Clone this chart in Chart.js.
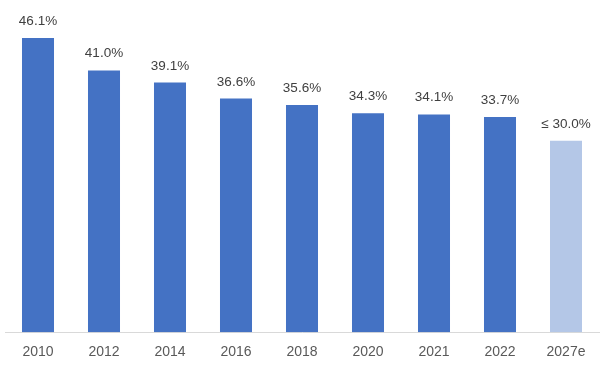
<!DOCTYPE html>
<html>
<head>
<meta charset="utf-8">
<script src="https://cdn.jsdelivr.net/npm/chart.js@4"></script>
<style>
  html, body { margin: 0; padding: 0; background: #fff; }
  #wrap { width: 610px; height: 374px; }
</style>
</head>
<body>
<div id="wrap"><canvas id="chart"></canvas></div>
<script>
const years = ["2010", "2012", "2014", "2016", "2018", "2020", "2021", "2022", "2027e"];
const shares = [46.1, 41.0, 39.1, 36.6, 35.6, 34.3, 34.1, 33.7, 30.0];
const valueLabels = ["46.1%", "41.0%", "39.1%", "36.6%", "35.6%", "34.3%", "34.1%", "33.7%", "≤ 30.0%"];

// value labels on top of each bar
const barLabels = {
  id: "barLabels",
  afterDatasetsDraw(chart) {
    const ctx = chart.ctx;
    const meta = chart.getDatasetMeta(0);
    ctx.save();
    ctx.font = "13.5px 'Liberation Sans', Arial, sans-serif";
    ctx.fillStyle = "#404040";
    ctx.textAlign = "center";
    ctx.textBaseline = "bottom";
    meta.data.forEach((bar, i) => {
      ctx.fillText(valueLabels[i], bar.x, bar.y - 10);
    });
    ctx.restore();
  }
};

const ctx = document.getElementById("chart");

new Chart(ctx, {
  type: "bar",
  data: {
    labels: years,
    datasets: [
      {
        data: shares,
        backgroundColor: function (c) {
          return c.index === years.length - 1 ? "#b4c7e7" : "#4472c4";
        },
        borderWidth: 0,
        barPercentage: 0.485,
        categoryPercentage: 1,
      },
    ],
  },
  options: {
    responsive: true,
    maintainAspectRatio: false,
    animation: false,
    layout: { padding: { left: 5, right: 11, top: 13, bottom: 1 } },
    plugins: {
      legend: { display: false },
      tooltip: { enabled: false },
    },
    scales: {
      x: {
        grid: { display: false, drawTicks: false },
        border: { display: true, color: "#d9d9d9", width: 1 },
        ticks: {
          color: "#595959",
          font: { family: "'Liberation Sans', Arial, sans-serif", size: 14 },
          padding: 12,
        },
      },
      y: {
        display: false,
        min: 0,
        max: 50,
      },
    },
  },
  plugins: [barLabels],
});
</script>
</body>
</html>
